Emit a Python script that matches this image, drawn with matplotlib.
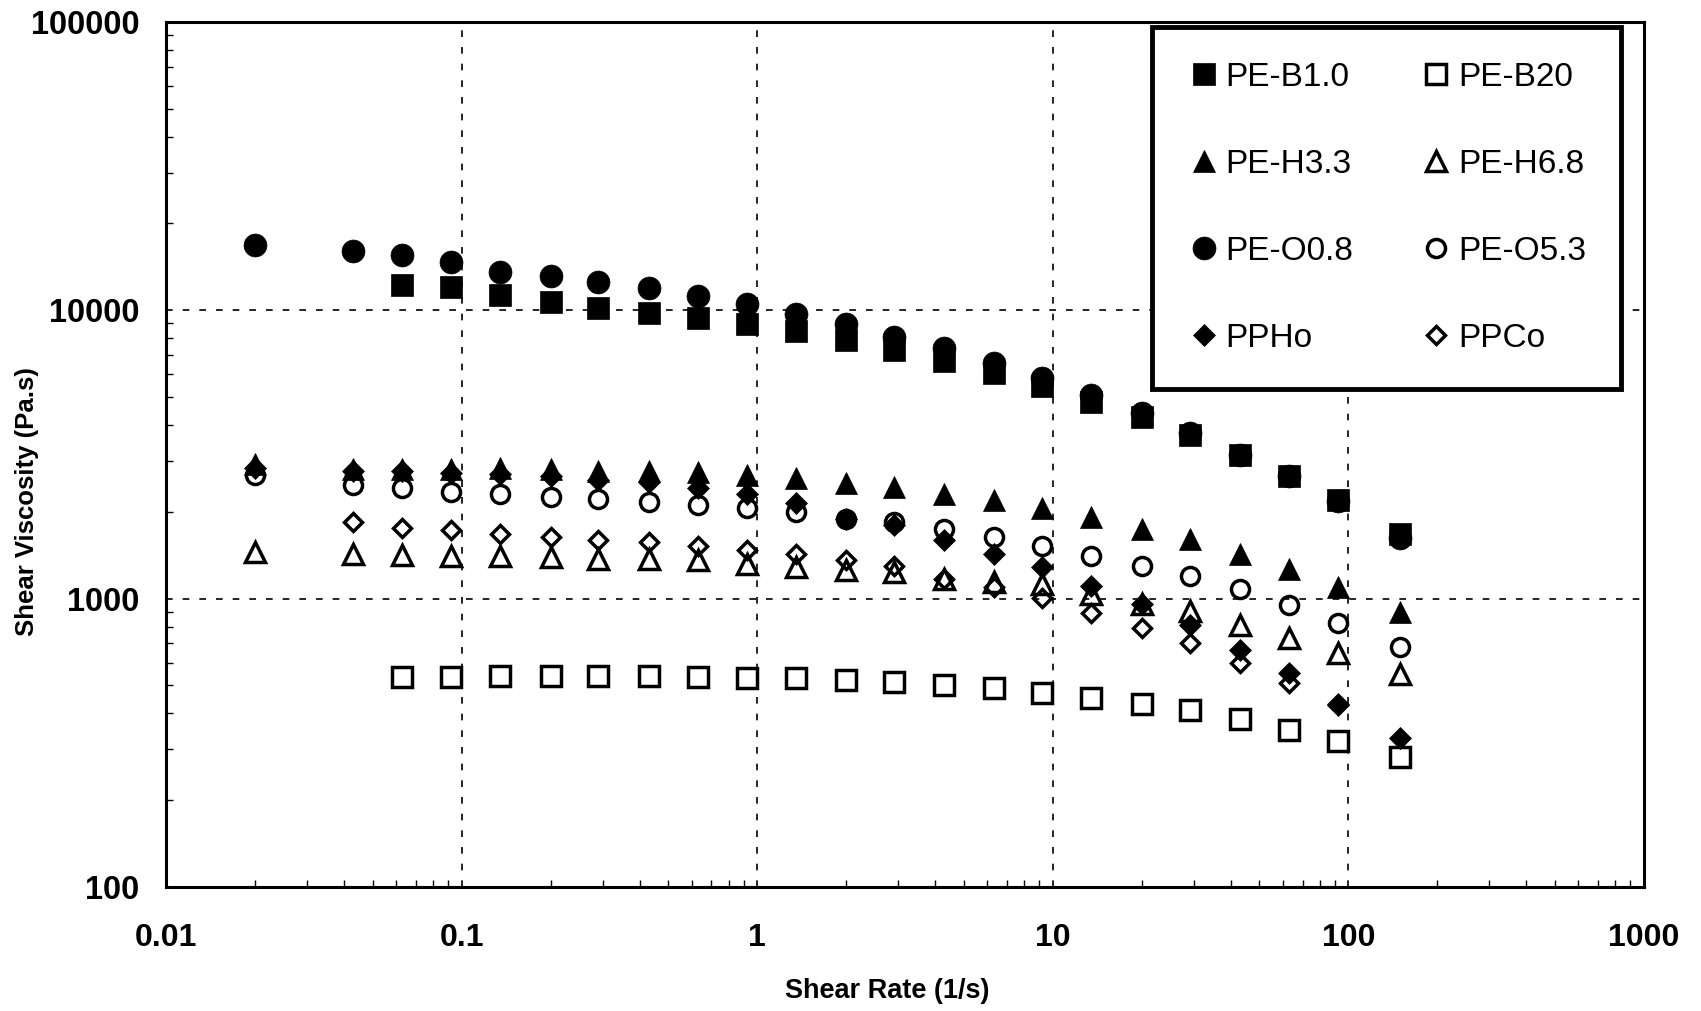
import numpy as np
import matplotlib
matplotlib.use('Agg')
import matplotlib.pyplot as plt
from matplotlib import ticker

plt.rcParams['font.family'] = ['Liberation Sans', 'DejaVu Sans']

nan = np.nan

# shear rate (1/s)
rate = [0.02, 0.043, 0.063, 0.092, 0.135, 0.2, 0.29, 0.43, 0.63, 0.92, 1.35,
        2.0, 2.9, 4.3, 6.3, 9.2, 13.5, 20, 29, 43, 63, 92, 150]

# shear viscosity (Pa.s) for each sample
pe_b10 = [nan, nan, 12200, 12050, 11300, 10700, 10200, 9800, 9370, 8980, 8450,
          7880, 7290, 6660, 6060, 5460, 4820, 4260, 3700, 3140, 2670, 2200, 1680]
pe_b20 = [nan, nan, 533, 535, 537, 538, 538, 537, 535, 531, 529,
          522, 515, 501, 489, 472, 451, 432, 410, 381, 351, 322, 282]
pe_h33 = [2920, 2810, 2820, 2820, 2830, 2810, 2780, 2780, 2740, 2680, 2620,
          2520, 2430, 2310, 2200, 2070, 1920, 1745, 1606, 1429, 1266, 1101, 896]
pe_h68 = [1450, 1430, 1420, 1410, 1400, 1390, 1376, 1376, 1362, 1315, 1283,
          1254, 1233, 1168, 1140, 1122, 1035, 960, 906, 813, 731, 647, 548]
pe_o08 = [16800, 16000, 15500, 14700, 13600, 13100, 12500, 11900, 11200, 10500, 9700,
          8950, 8100, 7400, 6550, 5800, 5080, 4390, 3760, 3140, 2670, 2180, 1620]
pe_o53 = [2690, 2480, 2410, 2350, 2300, 2260, 2210, 2170, 2110, 2070, 2000,
          1890, 1845, 1745, 1633, 1528, 1410, 1300, 1194, 1078, 948, 824, 680]
pp_ho = [2830, 2760, 2760, 2730, 2700, 2670, 2580, 2540, 2410, 2310, 2140,
         1890, 1795, 1595, 1429, 1283, 1107, 955, 813, 665, 551, 426, 329]
pp_co = [nan, 1844, 1758, 1726, 1679, 1634, 1592, 1570, 1528, 1470, 1430,
         1360, 1300, 1170, 1100, 1002, 889, 793, 701, 597, 508, 430, nan]

fig = plt.figure(figsize=(17.01, 10.11), dpi=100)
ax = fig.add_axes([0.0976, 0.1227, 0.8689, 0.8556])

# label, data, marker, filled, size
styles = [
    ('PE-B1.0', pe_b10, 's', True, 16),
    ('PE-B20', pe_b20, 's', False, 14),
    ('PE-H3.3', pe_h33, '^', True, 16),
    ('PE-H6.8', pe_h68, '^', False, 14),
    ('PE-O0.8', pe_o08, 'o', True, 16.5),
    ('PE-O5.3', pe_o53, 'o', False, 13),
    ('PPHo', pp_ho, 'D', True, 11),
    ('PPCo', pp_co, 'D', False, 9.5),
]

lines = {}
for label, vals, mk, filled, ms in styles:
    ln, = ax.plot(rate, vals, linestyle='none', marker=mk, ms=ms,
                  mfc='black' if filled else 'none', mec='black',
                  mew=0.5 if filled else 2.5, label=label)
    lines[label] = ln

ax.set_xscale('log')
ax.set_yscale('log')
ax.set_xlim(0.01, 1000)
ax.set_ylim(100, 100000)

fmt = ticker.FuncFormatter(lambda v, p: '%g' % v)
ax.xaxis.set_major_formatter(fmt)
ax.yaxis.set_major_formatter(fmt)
ax.xaxis.set_minor_formatter(ticker.NullFormatter())
ax.yaxis.set_minor_formatter(ticker.NullFormatter())

ax.tick_params(which='both', direction='in', width=1, colors='black')
ax.tick_params(which='major', length=0)
ax.tick_params(which='minor', length=5)
ax.tick_params(axis='x', which='major', pad=26, labelsize=23)
ax.tick_params(axis='y', which='major', pad=19, labelsize=23.5)
for t in ax.get_xticklabels() + ax.get_yticklabels():
    t.set_fontweight('bold')

ax.grid(True, which='major', color='black', linestyle=(0, (4, 6)), linewidth=1.2)
for s in ax.spines.values():
    s.set_linewidth(2.2)
    s.set_color('black')

ax.set_xlabel('Shear Rate (1/s)', fontsize=19.5, fontweight='bold')
ax.set_ylabel('Shear Viscosity (Pa.s)', fontsize=18.5, fontweight='bold')
ax.xaxis.set_label_coords(0.488, -0.105)
ax.yaxis.set_label_coords(-0.086, 0.446)

order = ['PE-B1.0', 'PE-H3.3', 'PE-O0.8', 'PPHo', 'PE-B20', 'PE-H6.8', 'PE-O5.3', 'PPCo']
leg = ax.legend([lines[k] for k in order], order, ncol=2, loc='upper left',
                bbox_to_anchor=(0.667, 0.994), prop={'size': 24},
                fancybox=False, edgecolor='black', framealpha=1,
                handlelength=1.0, handletextpad=0.15, columnspacing=2.0,
                labelspacing=1.68, borderpad=1.05, borderaxespad=0, numpoints=1)
leg.get_frame().set_linewidth(3.5)

fig.savefig('out.png', dpi=100)
